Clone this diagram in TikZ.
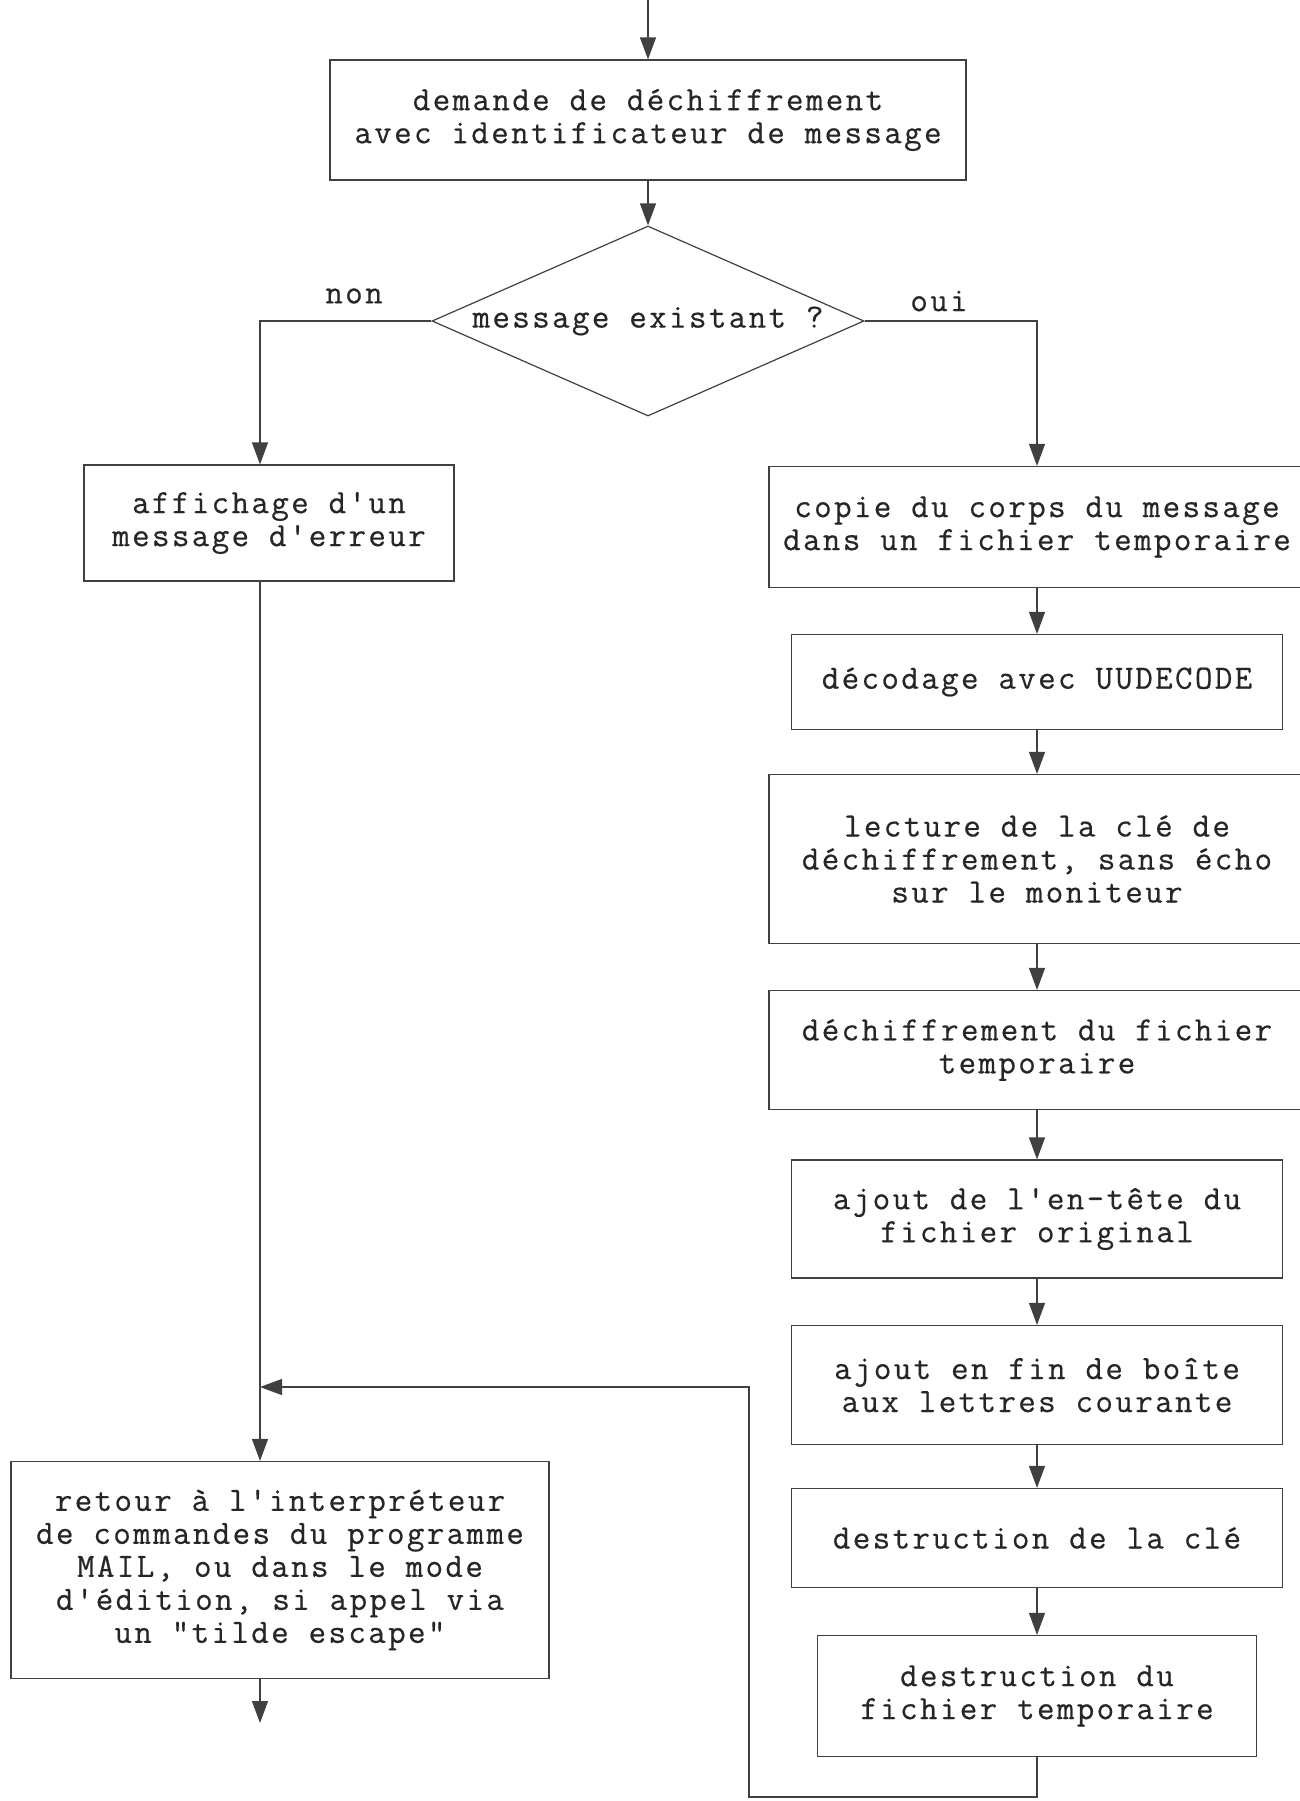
\documentclass[tikz,border=0pt]{standalone}
\usepackage{fontspec}
\newfontfamily\flowtt[LetterSpace=7,FakeBold=0.5]{Latin Modern Mono}
\usetikzlibrary{arrows.meta,shapes.geometric}
\definecolor{ink}{gray}{0.25}

\begin{document}
\begin{tikzpicture}[x=0.5pt,y=-0.5pt,
  txt/.style={font=\flowtt\fontsize{17pt}{16.5pt}\selectfont, text=black!85},
  stepbox/.style={txt, draw=ink, line width=0.6pt, inner sep=0pt, align=center},
  test/.style={txt, draw=ink, line width=0.6pt, shape=diamond, inner sep=0pt,
    shape aspect=2.27, minimum width=216pt, minimum height=95pt},
  link/.style={draw=ink, line width=0.6pt},
  arr/.style={link, -{Triangle[width=8pt,length=11pt]}},
]
\useasboundingbox (0,0) rectangle (1300,1801);

% main line
\node[stepbox, minimum width=318pt, minimum height=60pt] (ask) at (648,120)
  {demande de déchiffrement\\avec identificateur de message};
\node[test] (exist) at (648,321) {message existant ?};

% left branch
\node[stepbox, minimum width=185pt, minimum height=58pt] (err) at (269,523)
  {affichage d'un\\message d'erreur};
\node[stepbox, minimum width=269pt, minimum height=108.5pt] (back) at (280,1570)
  {retour à l'interpréteur\\de commandes du programme\\MAIL, ou dans le mode\\d'édition, si appel via\\un "tilde escape"};

% right branch
\node[stepbox, minimum width=268pt, minimum height=60.5pt] (copy) at (1037,527)
  {copie du corps du message\\dans un fichier temporaire};
\node[stepbox, minimum width=245.5pt, minimum height=47.5pt] (uud) at (1037,682)
  {décodage avec UUDECODE};
\node[stepbox, minimum width=268pt, minimum height=84.5pt] (key) at (1037,859)
  {lecture de la clé de\\déchiffrement, sans écho\\sur le moniteur};
\node[stepbox, minimum width=268pt, minimum height=59.5pt] (dec) at (1037,1050)
  {déchiffrement du fichier\\temporaire};
\node[stepbox, minimum width=245.5pt, minimum height=59pt] (head) at (1037,1219)
  {ajout de l'en-tête du\\fichier original};
\node[stepbox, minimum width=245.5pt, minimum height=59.5pt] (box) at (1037,1385)
  {ajout en fin de boîte\\aux lettres courante};
\node[stepbox, minimum width=245.5pt, minimum height=49.5pt] (kill) at (1037,1538)
  {destruction de la clé};
\node[stepbox, minimum width=219.5pt, minimum height=60.5pt] (rm) at (1037,1696)
  {destruction du\\fichier temporaire};

% branch labels
\node[txt] (no) at (354,296) {non};
\node[txt] (yes) at (939,301) {oui};

% free ends and bends
\coordinate (in) at (648,0);
\coordinate (lx) at (260,0);
\coordinate (join) at (260,1387);
\coordinate (low) at (749,1797);
\coordinate (out) at (260,1723);

% connectors
\draw[arr] (in) -- (ask.north);
\draw[arr] (ask.south) -- (exist.north);
\draw[arr] (exist.west) -| (err.north -| lx);
\draw[arr] (exist.east) -| (copy.north);
\draw[arr] (err.south -| lx) -- (back.north -| lx);
\draw[arr] (back.south -| lx) -- (out);
\draw[arr] (copy.south) -- (uud.north);
\draw[arr] (uud.south) -- (key.north);
\draw[arr] (key.south) -- (dec.north);
\draw[arr] (dec.south) -- (head.north);
\draw[arr] (head.south) -- (box.north);
\draw[arr] (box.south) -- (kill.north);
\draw[arr] (kill.south) -- (rm.north);
\draw[arr] (rm.south) |- (low) |- (join);
\end{tikzpicture}
\end{document}
